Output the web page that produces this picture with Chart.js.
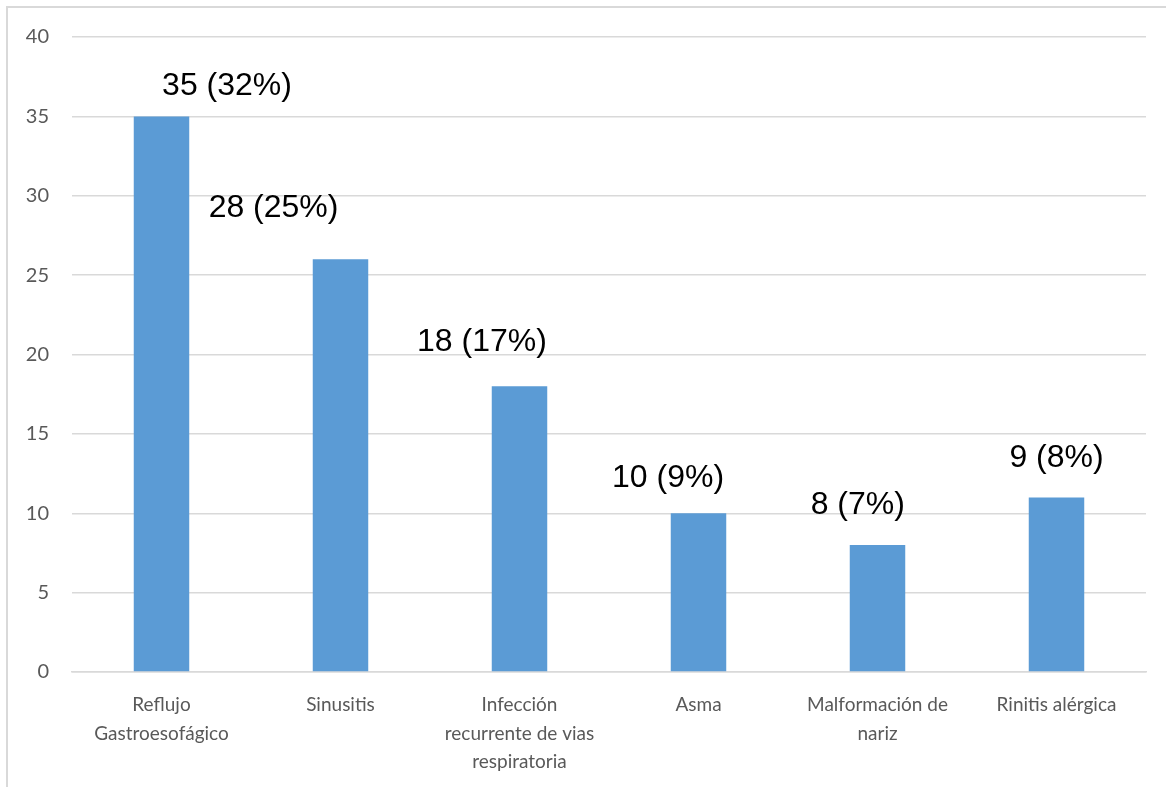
<!DOCTYPE html>
<html>
<head>
<meta charset="utf-8">
<script src="https://cdn.jsdelivr.net/npm/chart.js@4"></script>
<style>
    html, body { margin: 0; padding: 0; background: #fff; overflow: hidden; }
    #frame {
        position: absolute; left: 6px; top: 6px;
        width: 1300px; height: 1000px;
        border: 2px solid #d9d9d9;
    }
    #wrap { position: absolute; left: 0; top: 0; width: 1166px; height: 787px; }
</style>
</head>
<body>
<div id="frame"></div>
<div id="wrap"><canvas id="chart"></canvas></div>
<script>
// Categories (multi-line as in the source)
const categories = [
    ['Reflujo', 'Gastroesofágico'],
    'Sinusitis',
    ['Infección', 'recurrente de vias', 'respiratoria'],
    'Asma',
    ['Malformación de', 'nariz'],
    'Rinitis alérgica'
];
const values = [35, 26, 18, 10, 8, 11];
const labelTexts = ['35 (32%)', '28 (25%)', '18 (17%)', '10 (9%)', '8 (7%)', '9 (8%)'];
// where each value label sits, in data units (value) and category units (shift)
const labelValues = [36.9, 29.2, 20.8, 12.2, 10.5, 13.5];
const labelShifts = [0.366, -0.374, -0.21, -0.17, -0.11, 0];
const yTicks = [0, 5, 10, 15, 20, 25, 30, 35, 40];

const valueLabels = {
    id: 'valueLabels',
    afterDatasetsDraw(chart) {
        const { ctx, scales: { x, y } } = chart;
        const catWidth = x.width / categories.length;
        ctx.save();
        ctx.font = "32px 'Liberation Sans', Arial, sans-serif";
        ctx.fillStyle = '#000';
        ctx.textAlign = 'center';
        ctx.textBaseline = 'middle';
        labelTexts.forEach((txt, i) => {
            const px = x.getPixelForValue(i) + labelShifts[i] * catWidth;
            const py = y.getPixelForValue(labelValues[i]);
            ctx.fillText(txt, px, py);
        });
        ctx.restore();
    }
};

const gridColor = '#d9d9d9';
const tickColor = '#595959';
const tickFont = "Lato, 'Open Sans', sans-serif";

new Chart(document.getElementById('chart'), {
    type: 'bar',
    data: {
        labels: categories,
        datasets: [{
            data: values,
            backgroundColor: '#5b9bd5',
            borderWidth: 0,
            categoryPercentage: 1,
            barPercentage: 0.31
        }]
    },
    options: {
        responsive: true,
        maintainAspectRatio: false,
        animation: false,
        layout: { padding: { left: 0, top: 37, right: 20, bottom: 0 } },
        plugins: {
            legend: { display: false },
            tooltip: { enabled: false }
        },
        scales: {
            x: {
                grid: { display: false, drawTicks: false },
                border: { color: gridColor, width: 1.5 },
                ticks: {
                    color: tickColor,
                    font: { family: tickFont, size: 19, lineHeight: 1.5 },
                    padding: 19,
                    maxRotation: 0,
                    autoSkip: false
                },
                afterFit(scale) { scale.height = 115; }
            },
            y: {
                min: 0,
                max: 40,
                afterBuildTicks(scale) { scale.ticks = yTicks.map(v => ({ value: v })); },
                grid: { color: gridColor, lineWidth: 1.5, drawTicks: false },
                border: { display: false },
                ticks: {
                    color: tickColor,
                    font: { family: tickFont, size: 20 },
                    padding: 23
                },
                afterFit(scale) { scale.width = 72; }
            }
        }
    },
    plugins: [valueLabels]
});
</script>
</body>
</html>
